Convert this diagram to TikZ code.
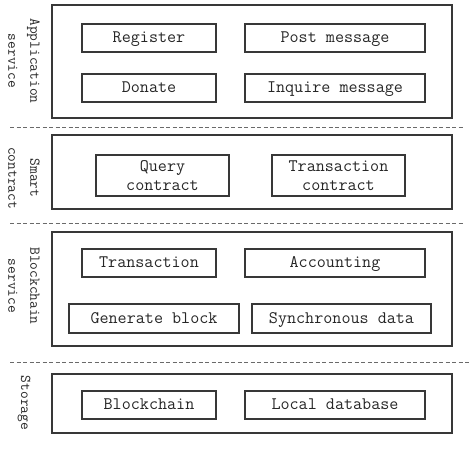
\documentclass[tikz,border=0pt]{standalone}
\usepackage{fontspec}
\usetikzlibrary{positioning}
\definecolor{framegray}{HTML}{383838}
\definecolor{dashgray}{HTML}{6A6A6A}

\begin{document}
\begin{tikzpicture}[
    x=1pt, y=-1pt,
    layer/.style={draw=framegray, line width=1.3pt, minimum width=400pt, inner sep=0pt},
    sublayer/.style={draw=framegray, line width=1.1pt, minimum height=28pt, inner sep=0pt, align=center,
        text=black!85, text height=12pt, text depth=2.5pt, font=\fontsize{17.6}{19}\selectfont\ttfamily},
    pairbox/.style={sublayer, text height={}, text depth={}, minimum width=133pt, minimum height=41pt},
    sidelabel/.style={rotate=-90, align=center, text=black!85, font=\fontsize{15}{22}\selectfont\ttfamily},
    divider/.style={draw=dashgray, line width=1pt, dash pattern=on 4pt off 2.5pt}
]
\useasboundingbox (0,0) rectangle (474,450);

\node[layer, minimum height=113pt] (app) at (252, 61.5) {};
\node[sidelabel] (applbl) at (24, 61) {Application\\service};
\node[sublayer, minimum width=134pt] (register) at (149, 38) {Register};
\node[sublayer, minimum width=180pt] (post) at (335, 38) {Post message};
\node[sublayer, minimum width=134pt] (donate) at (149, 88) {Donate};
\node[sublayer, minimum width=180pt] (inquire) at (335, 88) {Inquire message};

\node[layer, minimum height=74pt] (contract) at (252, 172) {};
\node[sidelabel] (contractlbl) at (24, 178) {Smart\\contract};
\node[pairbox] (query) at (162.5, 175.5) {Query\\contract};
\node[pairbox] (txcontract) at (338.5, 175.5) {Transaction\\contract};

\node[layer, minimum height=114pt] (chain) at (252, 289) {};
\node[sidelabel] (chainlbl) at (24, 286) {Blockchain\\service};
\node[sublayer, minimum width=134pt] (transaction) at (149, 263) {Transaction};
\node[sublayer, minimum width=180pt] (accounting) at (335, 263) {Accounting};
\node[sublayer, minimum width=170pt, minimum height=29pt] (genblock) at (154, 318.5) {Generate block};
\node[sublayer, minimum width=179pt, minimum height=29pt] (syncdata) at (341.5, 318.5) {Synchronous data};

\node[layer, minimum height=59pt] (storage) at (252, 403.5) {};
\node[sidelabel] (storagelbl) at (24, 403) {Storage};
\node[sublayer, minimum width=134pt] (blockchain) at (149, 405) {Blockchain};
\node[sublayer, minimum width=180pt] (localdb) at (335, 405) {Local database};

\draw[divider] (10, 127) -- (463, 127);
\draw[divider] (10, 223) -- (463, 223);
\draw[divider] (10, 362) -- (470, 362);

\end{tikzpicture}
\end{document}
